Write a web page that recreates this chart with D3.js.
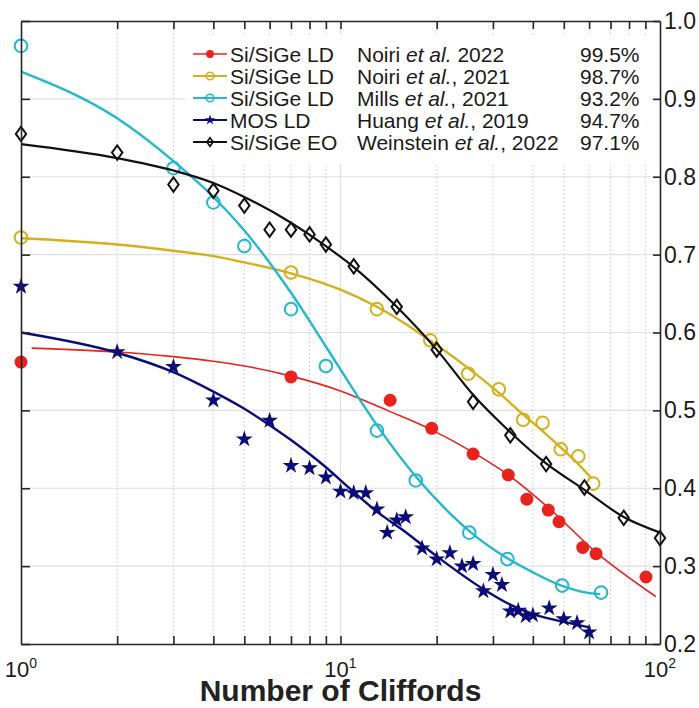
<!DOCTYPE html>
<html lang="en">
<head>
<meta charset="UTF-8">
<title>Clifford RB decay</title>
<script src="https://cdn.jsdelivr.net/npm/d3@7"></script>
<style>
  body { margin: 0; background: #fff; }
  svg { display: block; font-family: "Liberation Sans", Arial, Helvetica, sans-serif; }
</style>
</head>
<body>
<div id="chart"></div>
<script>
// values (x = number of Cliffords, y = sequence fidelity)
const noiri22N = [1, 7, 14.3, 19.3, 26, 33.5, 38.3, 44.7, 48.3, 57.3, 63.1, 90.4]
const noiri22F = [0.562, 0.543, 0.513, 0.477, 0.444, 0.417, 0.386, 0.372, 0.357, 0.324, 0.316, 0.286]
const noiri22FitN = [1.08, 2, 3, 4, 5, 7, 10, 14, 19.3, 26, 33.5, 45, 63, 97]
const noiri22FitF = [0.580, 0.575, 0.569, 0.563, 0.557, 0.544, 0.525, 0.500, 0.475, 0.446, 0.417, 0.374, 0.318, 0.261]

const noiri21N = [1, 7, 13, 19.1, 25.1, 31.3, 37.3, 42.9, 48.9, 55.5, 61.8]
const noiri21F = [0.722, 0.677, 0.630, 0.590, 0.547, 0.527, 0.488, 0.484, 0.450, 0.441, 0.406]
const noiri21FitN = [1, 2, 3, 4, 5, 7, 10, 13, 16, 19, 23.7, 31, 37, 43, 49, 55.5, 61]
const noiri21FitF = [0.721, 0.713, 0.705, 0.698, 0.690, 0.676, 0.655, 0.633, 0.611, 0.590, 0.562, 0.524, 0.496, 0.473, 0.452, 0.431, 0.413]

const mills21N = [1, 3, 4, 5, 7, 9, 13, 17.2, 25.3, 33.3, 49.4, 65.4]
const mills21F = [0.968, 0.811, 0.767, 0.711, 0.630, 0.557, 0.474, 0.410, 0.343, 0.309, 0.275, 0.266]
const mills21FitN = [1, 2, 3, 4, 5, 7, 9, 11.4, 13, 17.2, 21, 25.3, 33.3, 40, 49.4, 57, 65]
const mills21FitF = [0.935, 0.875, 0.820, 0.774, 0.731, 0.651, 0.582, 0.516, 0.481, 0.415, 0.376, 0.345, 0.310, 0.292, 0.2745, 0.267, 0.264]

const huang19N = [1, 2, 3, 4, 5, 6, 7, 8, 9, 10, 11, 12, 13, 14, 15, 16, 18, 20, 22, 24, 26, 28, 30, 32, 34, 36, 38, 40, 45, 50, 55, 60]
const huang19F = [0.659, 0.575, 0.556, 0.513, 0.463, 0.487, 0.429, 0.426, 0.414, 0.396, 0.394, 0.394, 0.373, 0.343, 0.359, 0.363,
                  0.323, 0.309, 0.317, 0.300, 0.303, 0.268, 0.289, 0.276, 0.242, 0.243, 0.236, 0.237, 0.246, 0.232, 0.227, 0.215]
const huang19FitN = [1, 2, 3, 4, 5, 6, 7, 8, 9, 10.6, 13, 15.7, 20.1, 28.1, 34.2, 40.4, 50.4, 60.5]
const huang19FitF = [0.600, 0.574, 0.549, 0.524, 0.502, 0.481, 0.462, 0.444, 0.427, 0.401, 0.370, 0.346, 0.312, 0.270, 0.250, 0.238, 0.228, 0.221]

const weinstein22N = [1, 2, 3, 4, 5, 6, 7, 8, 9, 11, 15, 20, 26, 34, 44, 58, 77, 100]
const weinstein22F = [0.855, 0.831, 0.790, 0.782, 0.763, 0.732, 0.732, 0.726, 0.713, 0.685, 0.633, 0.578, 0.511, 0.468, 0.431, 0.401, 0.362, 0.336]
const weinstein22FitN = [1, 2, 3, 4, 5, 7, 9, 11, 15, 20, 26, 34, 44, 58, 77, 100]
const weinstein22FitF = [0.842, 0.824, 0.808, 0.792, 0.774, 0.741, 0.711, 0.684, 0.633, 0.578, 0.520, 0.472, 0.432, 0.398, 0.363, 0.343]

// legend text
const legendDevice = ["Si/SiGe LD", "Si/SiGe LD", "Si/SiGe LD", "MOS LD", "Si/SiGe EO"]
const legendAuthor = ["Noiri ", "Noiri ", "Mills ", "Huang ", "Weinstein "]
const legendSuffix = [" 2022", ", 2021", ", 2021", ", 2019", ", 2022"]
const legendFidelity = ["99.5%", "98.7%", "93.2%", "94.7%", "97.1%"]

// ticks
const yTicks = [0.2, 0.3, 0.4, 0.5, 0.6, 0.7, 0.8, 0.9, 1.0]
const xMajor = [1, 10, 100]
const xMajorExp = ["0", "1", "2"]
const xMinor = [2, 3, 4, 5, 6, 7, 8, 9, 20, 30, 40, 50, 60, 70, 80, 90]

const w = 699
const h = 708
const plotLeft = 21, plotRight = 660, plotTop = 21, plotBottom = 644
const axisColor = "#262626"
const textColor = "#1a1a1a"

const svg = d3.select("#chart").append("svg").attr("width", w).attr("height", h)

const x = d3.scaleLog().domain([1, 100]).range([plotLeft, plotRight])
const y = d3.scaleLinear().domain([0.2, 1.0]).range([plotBottom, plotTop])

// grid
const grid = svg.append("g")
grid.selectAll("line.minor").data(xMinor).join("line")
    .attr("class", "minor")
    .attr("x1", d => x(d)).attr("x2", d => x(d))
    .attr("y1", plotTop).attr("y2", plotBottom)
    .attr("stroke", "#c8c8c8").attr("stroke-width", 1).attr("stroke-dasharray", "1.5,2.5")
grid.selectAll("line.vmajor").data([10]).join("line")
    .attr("class", "vmajor")
    .attr("x1", d => x(d)).attr("x2", d => x(d))
    .attr("y1", plotTop).attr("y2", plotBottom)
    .attr("stroke", "#e0e0e0").attr("stroke-width", 1.2)
grid.selectAll("line.hmajor").data(yTicks.slice(1, -1)).join("line")
    .attr("class", "hmajor")
    .attr("x1", plotLeft).attr("x2", plotRight)
    .attr("y1", d => y(d)).attr("y2", d => y(d))
    .attr("stroke", "#e0e0e0").attr("stroke-width", 1.2)

// series
const styles = [
    { color: "#e8231e", marker: "dot", lw: 1.6 },
    { color: "#d6b01c", marker: "circle", lw: 2.4 },
    { color: "#22b8cf", marker: "circle", lw: 2.4 },
    { color: "#0c0c78", marker: "star", lw: 2.4 },
    { color: "#111111", marker: "diamond", lw: 2.2 }
]
const series = [
    { n: noiri22N, f: noiri22F, fitN: noiri22FitN, fitF: noiri22FitF },
    { n: noiri21N, f: noiri21F, fitN: noiri21FitN, fitF: noiri21FitF },
    { n: mills21N, f: mills21F, fitN: mills21FitN, fitF: mills21FitF },
    { n: huang19N, f: huang19F, fitN: huang19FitN, fitF: huang19FitF },
    { n: weinstein22N, f: weinstein22F, fitN: weinstein22FitN, fitF: weinstein22FitF }
]

const line = d3.line()
    .x(d => x(d[0]))
    .y(d => y(d[1]))
    .curve(d3.curveMonotoneX)

function drawMarker (g, type, color, big) {
    const s = big ? 1 : 0.6
    if (type == "dot") {
        g.append("circle").attr("r", 6.5 * s).attr("fill", color)
    } else if (type == "circle") {
        g.append("circle").attr("r", 6.3 * s).attr("fill", "none")
            .attr("stroke", color).attr("stroke-width", big ? 2 : 1.6)
    } else if (type == "star") {
        g.append("path").attr("d", d3.symbol(d3.symbolStar, big ? 88 : 34)()).attr("fill", color)
    } else {
        const a = 5.2 * s, b = 7.2 * s
        g.append("path").attr("d", `M0,${-b}L${a},0L0,${b}L${-a},0Z`)
            .attr("fill", "none").attr("stroke", color).attr("stroke-width", big ? 2 : 1.6)
    }
}

series.forEach((s, i) => {
    const st = styles[i]
    svg.append("path")
        .datum(d3.zip(s.fitN, s.fitF))
        .attr("d", line)
        .attr("fill", "none")
        .attr("stroke", st.color)
        .attr("stroke-width", st.lw)

    svg.append("g").selectAll("g")
        .data(d3.zip(s.n, s.f))
        .join("g")
        .attr("transform", d => `translate(${x(d[0])},${y(d[1])})`)
        .each(function () { drawMarker(d3.select(this), st.marker, st.color, true) })
})

// axes (box, ticks inward)
function styleAxis (g) {
    g.selectAll("path, line").attr("stroke", axisColor).attr("stroke-width", 1.6)
    g.selectAll("text").attr("fill", textColor).style("font-size", "23px")
        .style("font-family", "'Liberation Sans', Arial, sans-serif")
}
const xAll = xMinor.concat([10])
svg.append("g").attr("transform", `translate(0,${plotBottom})`)
    .call(d3.axisBottom(x).tickValues(xAll).tickSizeInner(-8).tickSizeOuter(0).tickFormat(""))
    .call(styleAxis)
svg.append("g").attr("transform", `translate(0,${plotTop})`)
    .call(d3.axisTop(x).tickValues(xAll).tickSizeInner(-8).tickSizeOuter(0).tickFormat(""))
    .call(styleAxis)
svg.append("g").attr("transform", `translate(${plotLeft},0)`)
    .call(d3.axisLeft(y).tickValues(yTicks).tickSizeInner(-9).tickSizeOuter(0).tickFormat(""))
    .call(styleAxis)
svg.append("g").attr("transform", `translate(${plotRight},0)`)
    .call(d3.axisRight(y).tickValues(yTicks).tickSizeInner(-7).tickSizeOuter(0).tickPadding(4).tickFormat(d3.format(".1f")))
    .call(styleAxis)

// x tick labels 10^k
svg.append("g").selectAll("text")
    .data(xMajor)
    .join("text")
    .attr("x", d => x(d))
    .attr("y", 677)
    .attr("text-anchor", "middle")
    .attr("fill", textColor)
    .style("font-size", "22px")
    .each(function (d, i) {
        const t = d3.select(this)
        t.append("tspan").text("10")
        t.append("tspan").attr("dy", -9).style("font-size", "14px").text(xMajorExp[i])
    })

svg.append("text")
    .attr("x", (plotLeft + plotRight) / 2)
    .attr("y", 701)
    .attr("text-anchor", "middle")
    .attr("fill", "#222")
    .style("font-size", "30px")
    .style("font-weight", "bold")
    .text("Number of Cliffords")

// legend
const legend = svg.append("g")
legend.append("rect")
    .attr("x", 185).attr("y", 35).attr("width", 465).attr("height", 129)
    .attr("fill", "#fff")

const rows = legend.selectAll("g.row")
    .data(legendDevice)
    .join("g")
    .attr("class", "row")
    .attr("transform", (d, i) => `translate(0,${54 + i * 22})`)

rows.append("line")
    .attr("x1", 193).attr("x2", 227)
    .attr("stroke", (d, i) => styles[i].color)
    .attr("stroke-width", (d, i) => Math.min(styles[i].lw, 2))
rows.each(function (d, i) {
    const g = d3.select(this).append("g").attr("transform", "translate(210,0)")
    drawMarker(g, styles[i].marker, styles[i].color, false)
})
rows.append("text")
    .attr("x", 230).attr("y", 7.5)
    .attr("fill", textColor).style("font-size", "21px")
    .text(d => d)
rows.append("text")
    .attr("x", 357).attr("y", 7.5)
    .attr("fill", textColor).style("font-size", "21px")
    .each(function (d, i) {
        const t = d3.select(this)
        t.append("tspan").text(legendAuthor[i])
        t.append("tspan").style("font-style", "italic").text("et al.")
        t.append("tspan").text(legendSuffix[i])
    })
rows.append("text")
    .attr("x", 580).attr("y", 7.5)
    .attr("fill", textColor).style("font-size", "21px")
    .text((d, i) => legendFidelity[i])
</script>
</body>
</html>
